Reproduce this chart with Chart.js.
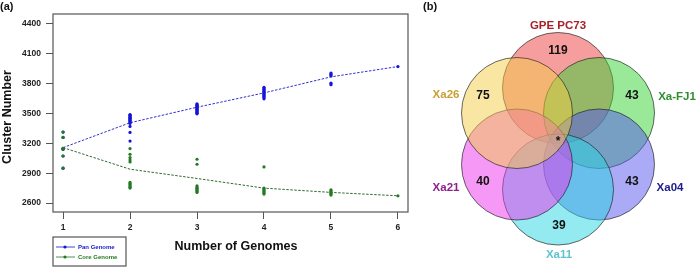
<!DOCTYPE html>
<html><head><meta charset="utf-8">
<script src="https://cdn.jsdelivr.net/npm/chart.js@4/dist/chart.umd.min.js"></script>
<style>
html,body{margin:0;padding:0;background:#fff;overflow:hidden}
#wrap{position:relative;width:696px;height:268px;background:#fff}
#c1{position:absolute;left:0;top:0}
#c2{position:absolute;left:420px;top:0}
</style></head><body>
<div id="wrap"><canvas id="c1" width="420" height="268"></canvas><canvas id="c2" width="276" height="268"></canvas></div>
<script>
// ---------- Panel (a) data ----------
const genomeCounts = [1, 2, 3, 4, 5, 6];
const panValues = [
  [3313, 3260, 3150, 3140, 3073, 2950],
  [3490, 3483, 3475, 3467, 3460, 3452, 3445, 3437, 3430, 3420, 3410, 3400, 3370, 3310, 3223],
  [3597, 3590, 3583, 3575, 3568, 3562, 3555, 3548, 3540, 3533, 3525, 3517, 3510, 3503, 3497],
  [3763, 3752, 3742, 3732, 3722, 3712, 3702, 3692, 3682, 3670, 3660, 3647],
  [3907, 3897, 3887, 3877, 3805, 3790],
  [3972]
];
const coreValues = [
  [3313, 3260, 3150, 3140, 3073, 2950],
  [3147, 3090, 3057, 3033, 3013, 2807, 2795, 2785, 2772, 2760, 2750],
  [3040, 2990, 2773, 2760, 2748, 2737, 2725, 2715, 2707],
  [2963, 2750, 2740, 2730, 2720, 2710, 2700, 2690],
  [2733, 2722, 2712, 2702, 2690, 2680],
  [2673]
];
const panCurve = [3157, 3407, 3563, 3707, 3868, 3972];
const coreCurve = [3157, 2940, 2847, 2750, 2707, 2673];
const yTicks = [2600, 2900, 3200, 3500, 3800, 4100, 4400];
const xTicks = [1, 2, 3, 4, 5, 6];
const seriesNames = ['Pan Genome', 'Core Genome'];
const xTitle = 'Number of Genomes';
const yTitle = 'Cluster Number';

// ---------- Panel (b) data (sets listed clockwise from the top) ----------
const vennSets = ['GPE PC73', 'Xa-FJ1', 'Xa04', 'Xa11', 'Xa21', 'Xa26'];
const vennUniqueCounts = ['119', '43', '43', '39', '40', '75'];
const vennCoreLabel = '*';
// layout of the Venn (abstract units, centre of diagram = 0,0)
const vennCenterX = [0, 0.82, 0.82, 0, -0.82, -0.82];
const vennCenterY = [1.02, 0.52, -0.51, -1.01, -0.51, 0.52];
const vennRadius = 1.11;
const vennCountX = [0, 1.48, 1.48, 0.02, -1.5, -1.5];
const vennCountY = [1.76, 0.86, -0.86, -1.74, -0.86, 0.86];
const vennNameX = [0, 2.38, 2.24, 0.02, -2.24, -2.24];
const vennNameY = [2.26, 0.84, -0.98, -2.32, -0.98, 0.88];

const FONT = '"Liberation Sans", Arial, Helvetica, sans-serif';
const BLUE = '#1515d6', GREEN = '#247a24';

function pts(groups) {
  const out = [];
  groups.forEach((g, i) => g.forEach(v => out.push({x: genomeCounts[i], y: v})));
  return out;
}

const decoA = {
  id: 'decoA',
  afterDraw(chart) {
    const ctx = chart.ctx, a = chart.chartArea;
    ctx.save();
    ctx.strokeStyle = '#555'; ctx.lineWidth = 1.2;
    ctx.strokeRect(a.left, a.top, a.right - a.left, a.bottom - a.top);
    ctx.fillStyle = '#111';
    ctx.textBaseline = 'middle';
    ctx.textAlign = 'left';
    ctx.font = 'bold 11px ' + FONT;
    ctx.fillText('(a)', 0, 7);
    ctx.textAlign = 'center';
    ctx.font = 'bold 12.5px ' + FONT;
    ctx.fillText(xTitle, 236, 247);
    ctx.save();
    ctx.translate(8, 117); ctx.rotate(-Math.PI / 2);
    ctx.fillText(yTitle, 0, 0);
    ctx.restore();
    // legend
    const lx = a.left, ly = 237, lw = 73, lh = 29;
    ctx.strokeStyle = '#555'; ctx.lineWidth = 1.2;
    ctx.strokeRect(lx, ly, lw, lh);
    const cols = [BLUE, GREEN];
    seriesNames.forEach((name, i) => {
      const y = ly + 10 + i * 10;
      ctx.strokeStyle = cols[i]; ctx.lineWidth = 0.8;
      ctx.beginPath(); ctx.moveTo(lx + 3, y); ctx.lineTo(lx + 22, y); ctx.stroke();
      ctx.fillStyle = cols[i];
      ctx.beginPath(); ctx.arc(lx + 12, y, 1.6, 0, Math.PI * 2); ctx.fill();
      ctx.font = 'bold 6px ' + FONT;
      ctx.textAlign = 'left';
      ctx.fillText(name, lx + 25, y);
    });
    ctx.restore();
  }
};

new Chart(document.getElementById('c1'), {
  type: 'scatter',
  data: {
    datasets: [
      {label: seriesNames[1], data: pts(coreValues), backgroundColor: GREEN, borderColor: GREEN, pointRadius: 1.6, pointBorderWidth: 0},
      {label: seriesNames[0], data: pts(panValues), backgroundColor: BLUE, borderColor: BLUE, pointRadius: 1.6, pointBorderWidth: 0},
      {type: 'line', data: genomeCounts.map((x, i) => ({x, y: coreCurve[i]})), borderColor: '#2d6a2d', borderDash: [2.5, 1.5], borderWidth: 1, pointRadius: 0, fill: false, tension: 0},
      {type: 'line', data: genomeCounts.map((x, i) => ({x, y: panCurve[i]})), borderColor: '#3030cc', borderDash: [2.5, 1.5], borderWidth: 1, pointRadius: 0, fill: false, tension: 0}
    ]
  },
  options: {
    responsive: false, animation: false, events: [],
    layout: {padding: {left: 0, top: 14, right: 12, bottom: 0}},
    plugins: {legend: {display: false}, tooltip: {enabled: false}},
    scales: {
      x: {
        type: 'linear', min: 0.85, max: 6.15,
        afterBuildTicks: s => { s.ticks = xTicks.map(v => ({value: v})); },
        afterFit: s => { s.height = 56; },
        grid: {drawOnChartArea: false, tickLength: 7, color: '#555', lineWidth: 1},
        border: {display: false},
        ticks: {font: {family: FONT, size: 8.5, weight: 'bold'}, color: '#222', padding: 4, maxRotation: 0, callback: v => String(v)}
      },
      y: {
        type: 'linear', min: 2510, max: 4500,
        afterBuildTicks: s => { s.ticks = yTicks.map(v => ({value: v})); },
        afterFit: s => { s.width = 53; },
        grid: {drawOnChartArea: false, tickLength: 7, color: '#555', lineWidth: 1},
        border: {display: false},
        ticks: {font: {family: FONT, size: 8.5, weight: 'bold'}, color: '#222', padding: 5, callback: v => String(v)}
      }
    }
  },
  plugins: [decoA]
});

// ---------- Venn ----------
const vennFill = ['rgba(238,62,62,0.5)', 'rgba(52,212,52,0.5)', 'rgba(86,86,240,0.5)', 'rgba(40,214,226,0.5)', 'rgba(238,52,238,0.5)', 'rgba(243,205,72,0.5)'];
const vennNameColor = ['#a8202a', '#2f8f2f', '#1b1b8a', '#5cc6cc', '#8e1f8e', '#c9a035'];

const vennLabels = {
  id: 'vennLabels',
  afterDraw(chart) {
    const ctx = chart.ctx, xs = chart.scales.x, ys = chart.scales.y;
    ctx.save();
    ctx.textAlign = 'center'; ctx.textBaseline = 'middle';
    ctx.font = 'bold 11.5px ' + FONT;
    vennSets.forEach((name, i) => {
      ctx.fillStyle = vennNameColor[i];
      ctx.fillText(name, xs.getPixelForValue(vennNameX[i]), ys.getPixelForValue(vennNameY[i]));
    });
    ctx.fillStyle = '#111';
    ctx.font = 'bold 12px ' + FONT;
    vennUniqueCounts.forEach((c, i) => {
      ctx.fillText(c, xs.getPixelForValue(vennCountX[i]), ys.getPixelForValue(vennCountY[i]));
    });
    ctx.fillText(vennCoreLabel, xs.getPixelForValue(0), ys.getPixelForValue(-0.02) + 2);
    ctx.textAlign = 'left';
    ctx.font = 'bold 11px ' + FONT;
    ctx.fillText('(b)', 3, 7);
    ctx.restore();
  }
};

function radiusPx(ctx) {
  const s = ctx.chart.scales.x;
  if (!s) return 0;
  return Math.abs(s.getPixelForValue(vennRadius) - s.getPixelForValue(0));
}

new Chart(document.getElementById('c2'), {
  type: 'scatter',
  data: {
    datasets: [{
      data: vennSets.map((s, i) => ({x: vennCenterX[i], y: vennCenterY[i]})),
      backgroundColor: vennFill,
      borderColor: 'rgba(35,35,35,0.75)',
      borderWidth: 0.9,
      pointRadius: radiusPx,
      pointHoverRadius: radiusPx,
      clip: false
    }]
  },
  options: {
    responsive: false, animation: false, events: [],
    layout: {padding: 0},
    plugins: {legend: {display: false}, tooltip: {enabled: false}},
    scales: {
      x: {type: 'linear', display: false, min: -2.76, max: 2.76},
      y: {type: 'linear', display: false, min: -2.58, max: 2.78}
    }
  },
  plugins: [vennLabels]
});
</script>
</body></html>
